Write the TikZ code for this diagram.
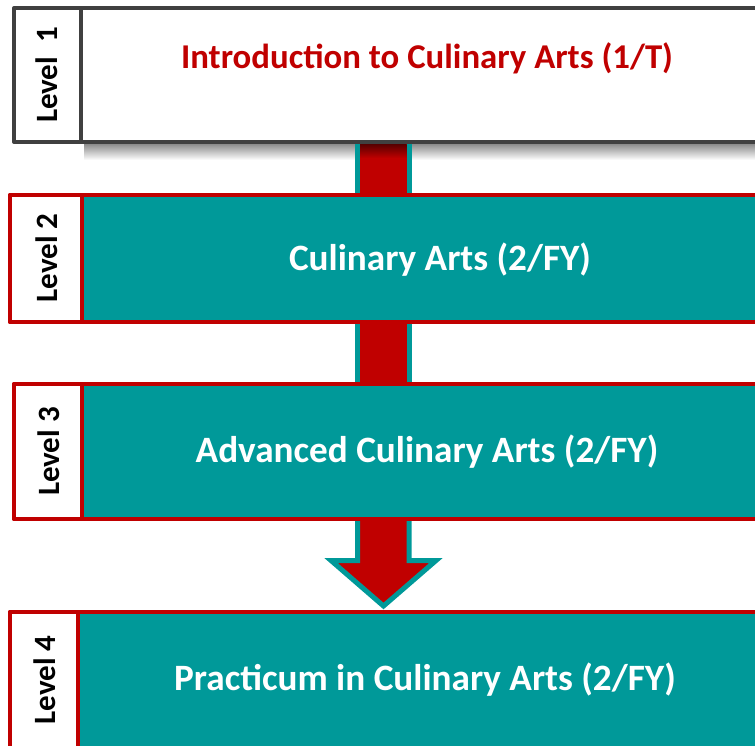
\documentclass[tikz,border=0pt]{standalone}
\usepackage{fontspec}
\setmainfont{Carlito}
\definecolor{cred}{HTML}{C00000}
\definecolor{cteal}{HTML}{009999}
\definecolor{cgray}{HTML}{404040}
\begin{document}
\begin{tikzpicture}[x=1pt,y=-1pt,
  lvl/.style={font=\fontsize{31}{31}\selectfont\bfseries, rotate=90, text=black, inner sep=0pt},
  maintxt/.style={font=\fontsize{37.2}{37.2}\selectfont\bfseries, inner sep=0pt},
  boxline/.style={line width=4pt, line join=round},
  shaft/.style={fill=cred, draw=cteal, line width=5pt}]
\useasboundingbox (0,0) rectangle (755,745);
\clip (0,0) rectangle (755,745);
% shadow under level 1
\shade[top color=black!45, bottom color=white] (84,144) rectangle (770,160);
% arrows (behind boxes)
\draw[shaft] (357.5,140) rectangle (409,197);
\shade[top color=cred!45!black, bottom color=cred] (360,144) rectangle (406.5,158);
\draw[shaft] (357.5,320) rectangle (409,386);
\draw[shaft, line join=miter] (357.5,515) -- (357.5,560.5) -- (331,560.5) -- (383.5,606) -- (436,560.5) -- (409,560.5) -- (409,515) -- cycle;
% Level 1
\draw[boxline, draw=cgray, fill=white] (14,8) rectangle (800,142);
\draw[boxline, draw=cgray] (81,8) -- (81,142);
\node[lvl] (l1) at (47,75) {Level\ \ 1};
\node[maintxt, text=cred, font=\fontsize{34.8}{34.8}\selectfont\bfseries] (t1) at (427,58) {Introduction to Culinary Arts (1/T)};
% Level 2
\draw[boxline, draw=cred, fill=cteal] (10,195) rectangle (800,322);
\draw[boxline, draw=cred, fill=white] (10,195) rectangle (82,322);
\node[lvl] (l2) at (47,258) {Level 2};
\node[maintxt, text=white] (t2) at (440,260) {Culinary Arts (2/FY)};
% Level 3
\draw[boxline, draw=cred, fill=cteal] (14,384) rectangle (800,519);
\draw[boxline, draw=cred, fill=white] (14,384) rectangle (82,519);
\node[lvl] (l3) at (49,451.5) {Level 3};
\node[maintxt, text=white] (t3) at (427,452) {Advanced Culinary Arts (2/FY)};
% Level 4
\draw[boxline, draw=cred, fill=cteal] (10,612) rectangle (800,800);
\draw[boxline, draw=cred, fill=white] (10,612) rectangle (78,800);
\node[lvl] (l4) at (45,680) {Level 4};
\node[maintxt, text=white] (t4) at (425,680) {Practicum in Culinary Arts (2/FY)};
\end{tikzpicture}
\end{document}
